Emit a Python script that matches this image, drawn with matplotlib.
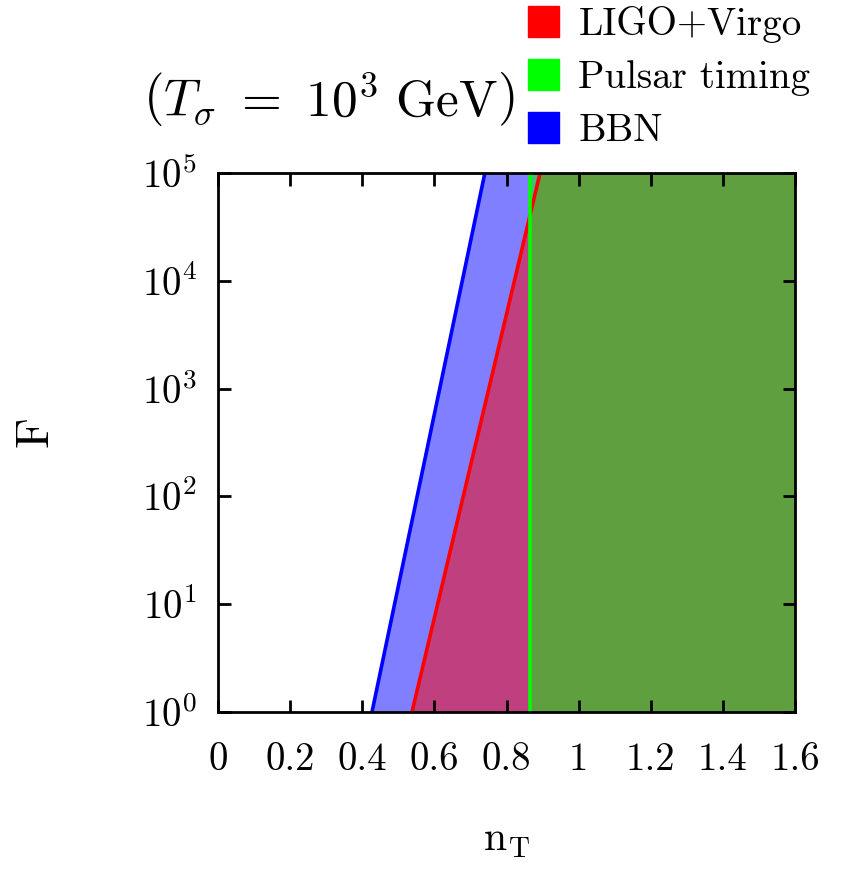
import numpy as np
import matplotlib
matplotlib.use('Agg')
import matplotlib.pyplot as plt
from matplotlib.patches import Patch

plt.rcParams['font.family'] = 'serif'
plt.rcParams['font.serif'] = ['cmr10']
plt.rcParams['mathtext.fontset'] = 'cm'
plt.rcParams['axes.formatter.use_mathtext'] = True

# boundary curves (n_T where each constraint starts, as function of F)
F_vals = [1.0, 1e5]
nT_bbn = [0.427, 0.740]
nT_ligo = [0.538, 0.893]
nT_pulsar = [0.865, 0.865]
nT_max = 1.6

xticks = [0, 0.2, 0.4, 0.6, 0.8, 1, 1.2, 1.4, 1.6]
xticklabels = ['0', '0.2', '0.4', '0.6', '0.8', '1', '1.2', '1.4', '1.6']

fig = plt.figure(figsize=(8.41, 8.74), dpi=100)
ax = fig.add_axes([218/841, 1 - 712/874, 577/841, 539/874])

# filled excluded regions, alpha 0.5 so they mix
ax.fill_betweenx(F_vals, nT_bbn, nT_max, color='blue', alpha=0.5, lw=0)
ax.fill_betweenx(F_vals, nT_ligo, nT_max, color='red', alpha=0.5, lw=0)
ax.fill_betweenx(F_vals, nT_pulsar, nT_max, color='#00ff00', alpha=0.5, lw=0)

ax.plot(nT_bbn, F_vals, color='blue', lw=2.6)
ax.plot(nT_ligo, F_vals, color='red', lw=2.6)
ax.plot(nT_pulsar, F_vals, color='#00ff00', lw=2.6)

ax.set_xlim(0, 1.6)
ax.set_yscale('log')
ax.set_ylim(1, 1e5)
ax.set_xticks(xticks)
ax.set_xticklabels(xticklabels)
ax.set_yticks([1, 10, 100, 1e3, 1e4, 1e5])
ax.minorticks_off()
ax.tick_params(direction='in', top=True, right=True, length=9, width=2,
               labelsize=28)
ax.tick_params(axis='x', pad=22)
ax.tick_params(axis='y', pad=15)
for s in ax.spines.values():
    s.set_linewidth(2)

ax.set_xlabel(r'$\mathrm{n_T}$', fontsize=30)
ax.xaxis.set_label_coords(0.5, -0.205)
ax.set_ylabel('F', fontsize=34)
ax.yaxis.set_label_coords(-0.28, 0.52)

fig.text(329/841, 1 - 100/874, r'$\left(T_\sigma\ =\ 10^3\ \mathrm{GeV}\right)$',
         fontsize=37, ha='center', va='center')

handles = [Patch(color='red'), Patch(color='#00ff00'), Patch(color='blue')]
labels = ['LIGO+Virgo', 'Pulsar timing', 'BBN']
fig.legend(handles, labels, loc='upper left', bbox_to_anchor=(522/841, 1.0),
           frameon=False, fontsize=28, handlelength=0.8, handleheight=0.85,
           handletextpad=0.5, labelspacing=0.42, borderaxespad=0.0,
           borderpad=0.15)

fig.savefig('out.png', dpi=100)
